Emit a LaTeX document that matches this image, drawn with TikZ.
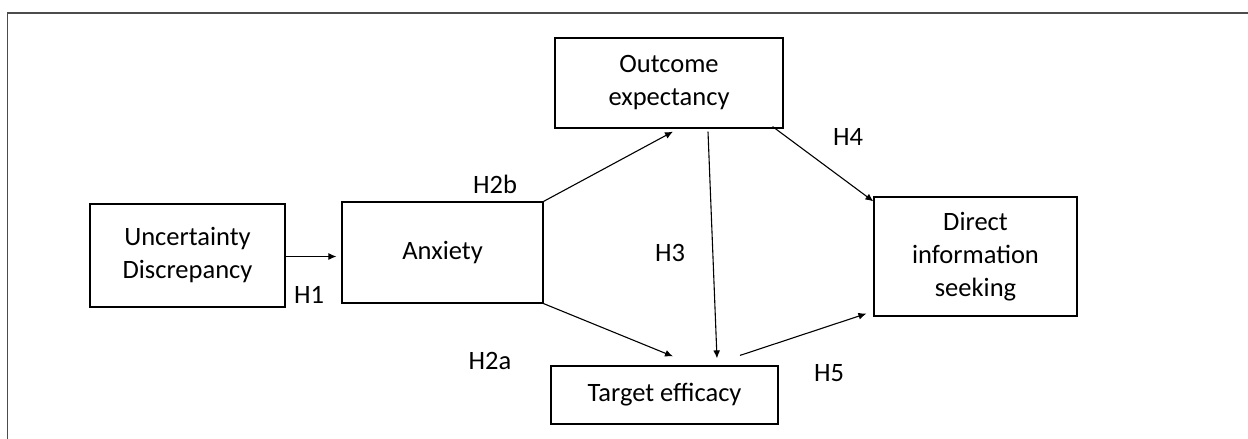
\documentclass[tikz,border=0pt]{standalone}
\usepackage{fontspec}
\setmainfont{Carlito}
\usetikzlibrary{arrows.meta}
\begin{document}
\begin{tikzpicture}[x=1pt,y=-1pt,
  box/.style={draw=black,line width=1.2pt,inner sep=0pt,align=center,font=\fontsize{26.5}{33}\selectfont},
  lbl/.style={inner sep=0pt,font=\fontsize{26.5}{33}\selectfont},
  arr/.style={line width=1.1pt,-{Latex[length=8pt,width=7pt]}},
  frame/.style={draw=black!70,line width=1.6pt}]
\useasboundingbox (0,0) rectangle (1248,439);
\coordinate (fb) at (7.5,439);
\coordinate (fc) at (7.5,13);
\coordinate (fr) at (1248,13);
\draw[frame] (fb) -- (fc) -- (fr);
\node[box,minimum width=195pt,minimum height=103pt] (U) at (187.5,255.5) {Uncertainty\\Discrepancy};
\node[box,minimum width=201pt,minimum height=101pt] (A) at (442.5,252.5) {Anxiety};
\node[box,minimum width=228pt,minimum height=90pt] (O) at (669,83) {Outcome\\expectancy};
\node[box,minimum width=227pt,minimum height=58pt] (T) at (664.5,395) {Target efficacy};
\node[box,minimum width=203pt,minimum height=119pt] (D) at (975.5,256.5) {Direct\\information\\seeking};
\draw[arr] ([yshift=-1pt]U.east) -- ([xshift=-5pt,yshift=-1pt]U.east -| A.west);
\draw[arr] (A.north east) -- ([xshift=4pt,yshift=-3pt]O.south);
\draw[arr] (A.south east) -- ([xshift=8.5pt,yshift=9pt]T.north);
\draw[arr] ([xshift=39pt,yshift=-3pt]O.south) -- ([xshift=52.5pt,yshift=7pt]T.north);
\draw[arr] ([xshift=-11pt,yshift=2pt]O.south east) -- ([yshift=-5pt]D.north west);
\draw[arr] ([xshift=75.5pt,yshift=10pt]T.north) -- ([xshift=-7pt,yshift=3pt]D.south west);
\node[lbl] (h1) at (309,295) {H1};
\node[lbl] (h2b) at (495,184) {H2b};
\node[lbl] (h2a) at (490,361) {H2a};
\node[lbl] (h3) at (670,253) {H3};
\node[lbl] (h4) at (848,137) {H4};
\node[lbl] (h5) at (829,373) {H5};
\end{tikzpicture}
\end{document}
